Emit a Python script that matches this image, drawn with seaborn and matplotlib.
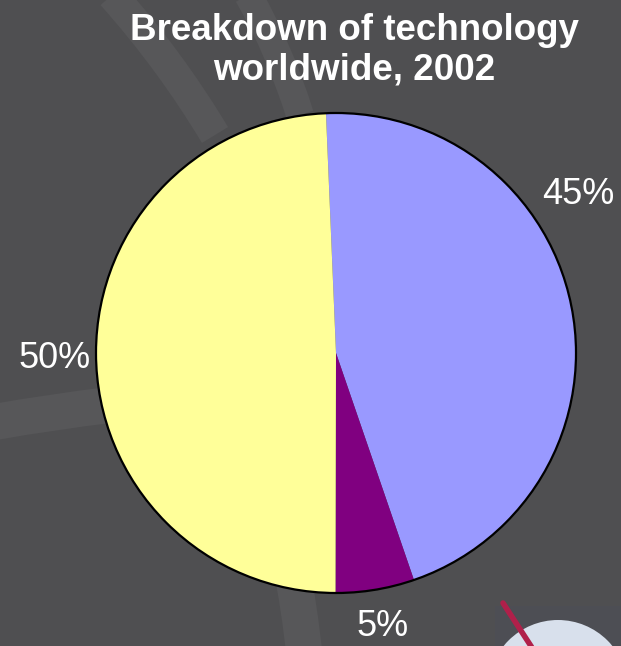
import matplotlib
matplotlib.use("Agg")
import matplotlib.pyplot as plt
import seaborn as sns
from matplotlib.path import Path
from matplotlib.patches import PathPatch, Circle, Rectangle

# ---- data ----
categories = ["Segment A", "Segment B", "Segment C"]
shares = [45.4, 5.3, 49.3]
pct_labels = ["45%", "5%", "50%"]
colors = ["#9999FF", "#800080", "#FFFF99"]
title = "Breakdown of technology\nworldwide, 2002"

sns.set_theme(style="white")
plt.rcParams["font.family"] = ["Liberation Sans", "DejaVu Sans"]

W, H = 621, 646
BG = "#4f4f51"
fig = plt.figure(figsize=(W / 100, H / 100), dpi=100, facecolor=BG)
ax = fig.add_axes([0, 0, 1, 1])
ax.set_facecolor(BG)

def Y(y):
    return H - y

# decorative background bands
def band(pts, lw, color="#575759"):
    verts = [(x, Y(y)) for x, y in pts]
    codes = [Path.MOVETO] + [Path.CURVE3] * (len(verts) - 1)
    ax.add_patch(PathPatch(Path(verts, codes), fill=False, lw=lw, ec=color,
                           zorder=0, capstyle="butt"))

band([(112, -5), (170, 60), (215, 135)], 22)
band([(248, -5), (280, 50), (300, 115)], 20)
band([(-5, 422), (50, 412), (110, 405)], 26)
band([(290, 560), (300, 610), (305, 660)], 26)

# logo hint (bottom right)
ax.add_patch(Rectangle((495, Y(646)), 126, 40, fc="#4d4e54", ec="none", zorder=0.4))
ax.add_patch(Circle((558, Y(690)), 70, fc="#d8e0ec", ec="none", zorder=0.5))
ax.plot([503, 540], [Y(603), Y(660)], color="#b0204a", lw=4, zorder=0.6)

# pie
ax.pie(shares, colors=colors, startangle=92.4, counterclock=False,
       center=(336, Y(353)), radius=240,
       wedgeprops=dict(linewidth=0, antialiased=True),
       frame=True)
ax.add_patch(Circle((336, Y(353)), 240, fc="none", ec="black", lw=1.6, zorder=3))
ax.set_xlim(0, W)
ax.set_ylim(0, H)
ax.set_aspect("equal")
ax.axis("off")

label_pos = [(578, 194), (383, 627), (55, 358)]
for (x, y), t in zip(label_pos, pct_labels):
    ax.text(x, Y(y), t, ha="center", va="center", color="white", fontsize=26)

ax.text(354, Y(50), title, ha="center", va="center", color="white",
        fontsize=26.5, fontweight="bold", linespacing=1.16)

fig.savefig("out.png", dpi=100, facecolor=BG)
